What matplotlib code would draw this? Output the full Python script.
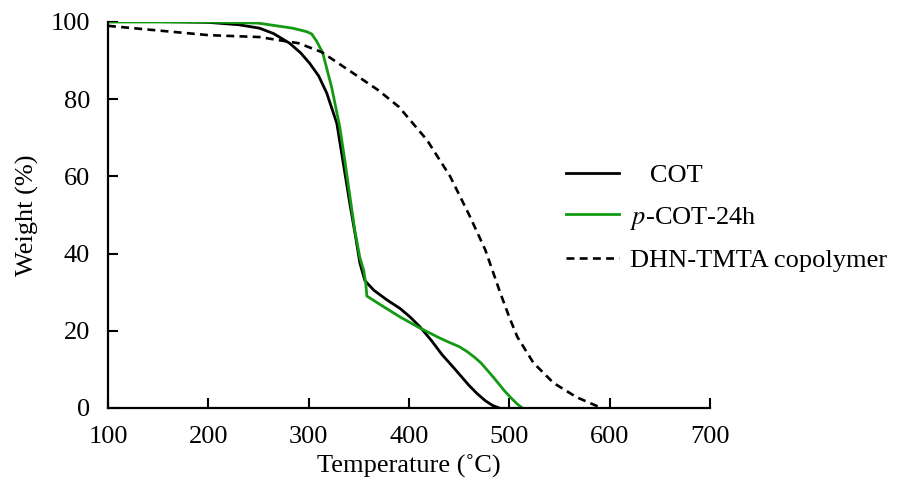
import matplotlib
matplotlib.use("Agg")
import matplotlib.pyplot as plt

plt.rcParams['font.family'] = ['Liberation Serif', 'DejaVu Serif']
plt.rcParams['mathtext.fontset'] = 'stix'

# TGA curves
cot_temp = [100, 150, 200, 230, 251, 265, 281, 292, 301, 310, 318, 328, 334, 341, 347,
            351, 356, 365, 378, 391, 401, 411, 422, 433, 444, 452, 460, 468, 476, 483, 490]
cot_weight = [100.3, 100.1, 99.9, 99.3, 98.4, 97, 94.5, 92, 89.3, 86, 81.6, 73.8, 64.2,
              53, 44, 37.6, 33, 30.5, 28, 25.8, 23.6, 21, 17.6, 13.8, 10.6, 8.2, 5.8, 3.7,
              1.9, 0.7, 0]

pcot_temp = [100, 200, 250, 284, 298, 303, 308, 314, 323, 331, 336, 341, 346, 351, 355,
             357, 358, 370, 391, 411, 430, 441, 450, 458, 466, 472, 484, 495, 501, 508, 513]
pcot_weight = [100, 100, 99.7, 98.4, 97.5, 96.9, 95, 92, 83, 72.8, 64.2, 55, 46, 39, 35.5,
               32, 29, 27, 23.6, 20.7, 18.2, 16.9, 15.9, 14.6, 13, 11.6, 8, 4.5, 2.8, 1, 0]

dhn_temp = [100, 150, 200, 230, 251, 270, 290, 313, 344, 369, 390, 418, 441, 460, 476,
            491, 500, 508, 524, 544, 567, 590]
dhn_weight = [99, 97.8, 96.6, 96.3, 96.1, 95.3, 94.5, 92.2, 86.8, 82.4, 78, 69.4, 60, 50,
              41, 29.8, 23.5, 18.4, 11.7, 6.5, 2.8, 0.2]

labels = ['   COT', '$p$-COT-24h', 'DHN-TMTA copolymer']
green = '#139a13'

fig = plt.figure(figsize=(8.98, 4.88), dpi=100)
ax = fig.add_axes([108 / 898, 1 - 408 / 488, (710 - 108) / 898, (408 - 22) / 488])

ax.plot(cot_temp, cot_weight, color='black', lw=2, label=labels[0])
ax.plot(pcot_temp, pcot_weight, color=green, lw=2, label=labels[1])
ax.plot(dhn_temp, dhn_weight, color='black', lw=1.9, ls=(0, (3, 2)), label=labels[2])

ax.set_xlim(100, 700)
ax.set_ylim(0, 100)
ax.set_xticks(range(100, 701, 100))
ax.set_yticks(range(0, 101, 20))
ax.spines['top'].set_visible(False)
ax.spines['right'].set_visible(False)
for s in ['left', 'bottom']:
    ax.spines[s].set_linewidth(1.6)
ax.tick_params(direction='in', length=7, width=1.5, labelsize=19, pad=13)
ax.set_xlabel('Temperature (˚C)', fontsize=19, labelpad=5)
ax.set_ylabel('Weight (%)', fontsize=19, labelpad=8)

fig.legend(loc='upper left', bbox_to_anchor=(566 / 898, 1 - 164 / 488), frameon=False,
           fontsize=19, handlelength=2.0, handletextpad=0.42, labelspacing=0.65,
           borderpad=0, borderaxespad=0)

fig.savefig('out.png', dpi=100)
